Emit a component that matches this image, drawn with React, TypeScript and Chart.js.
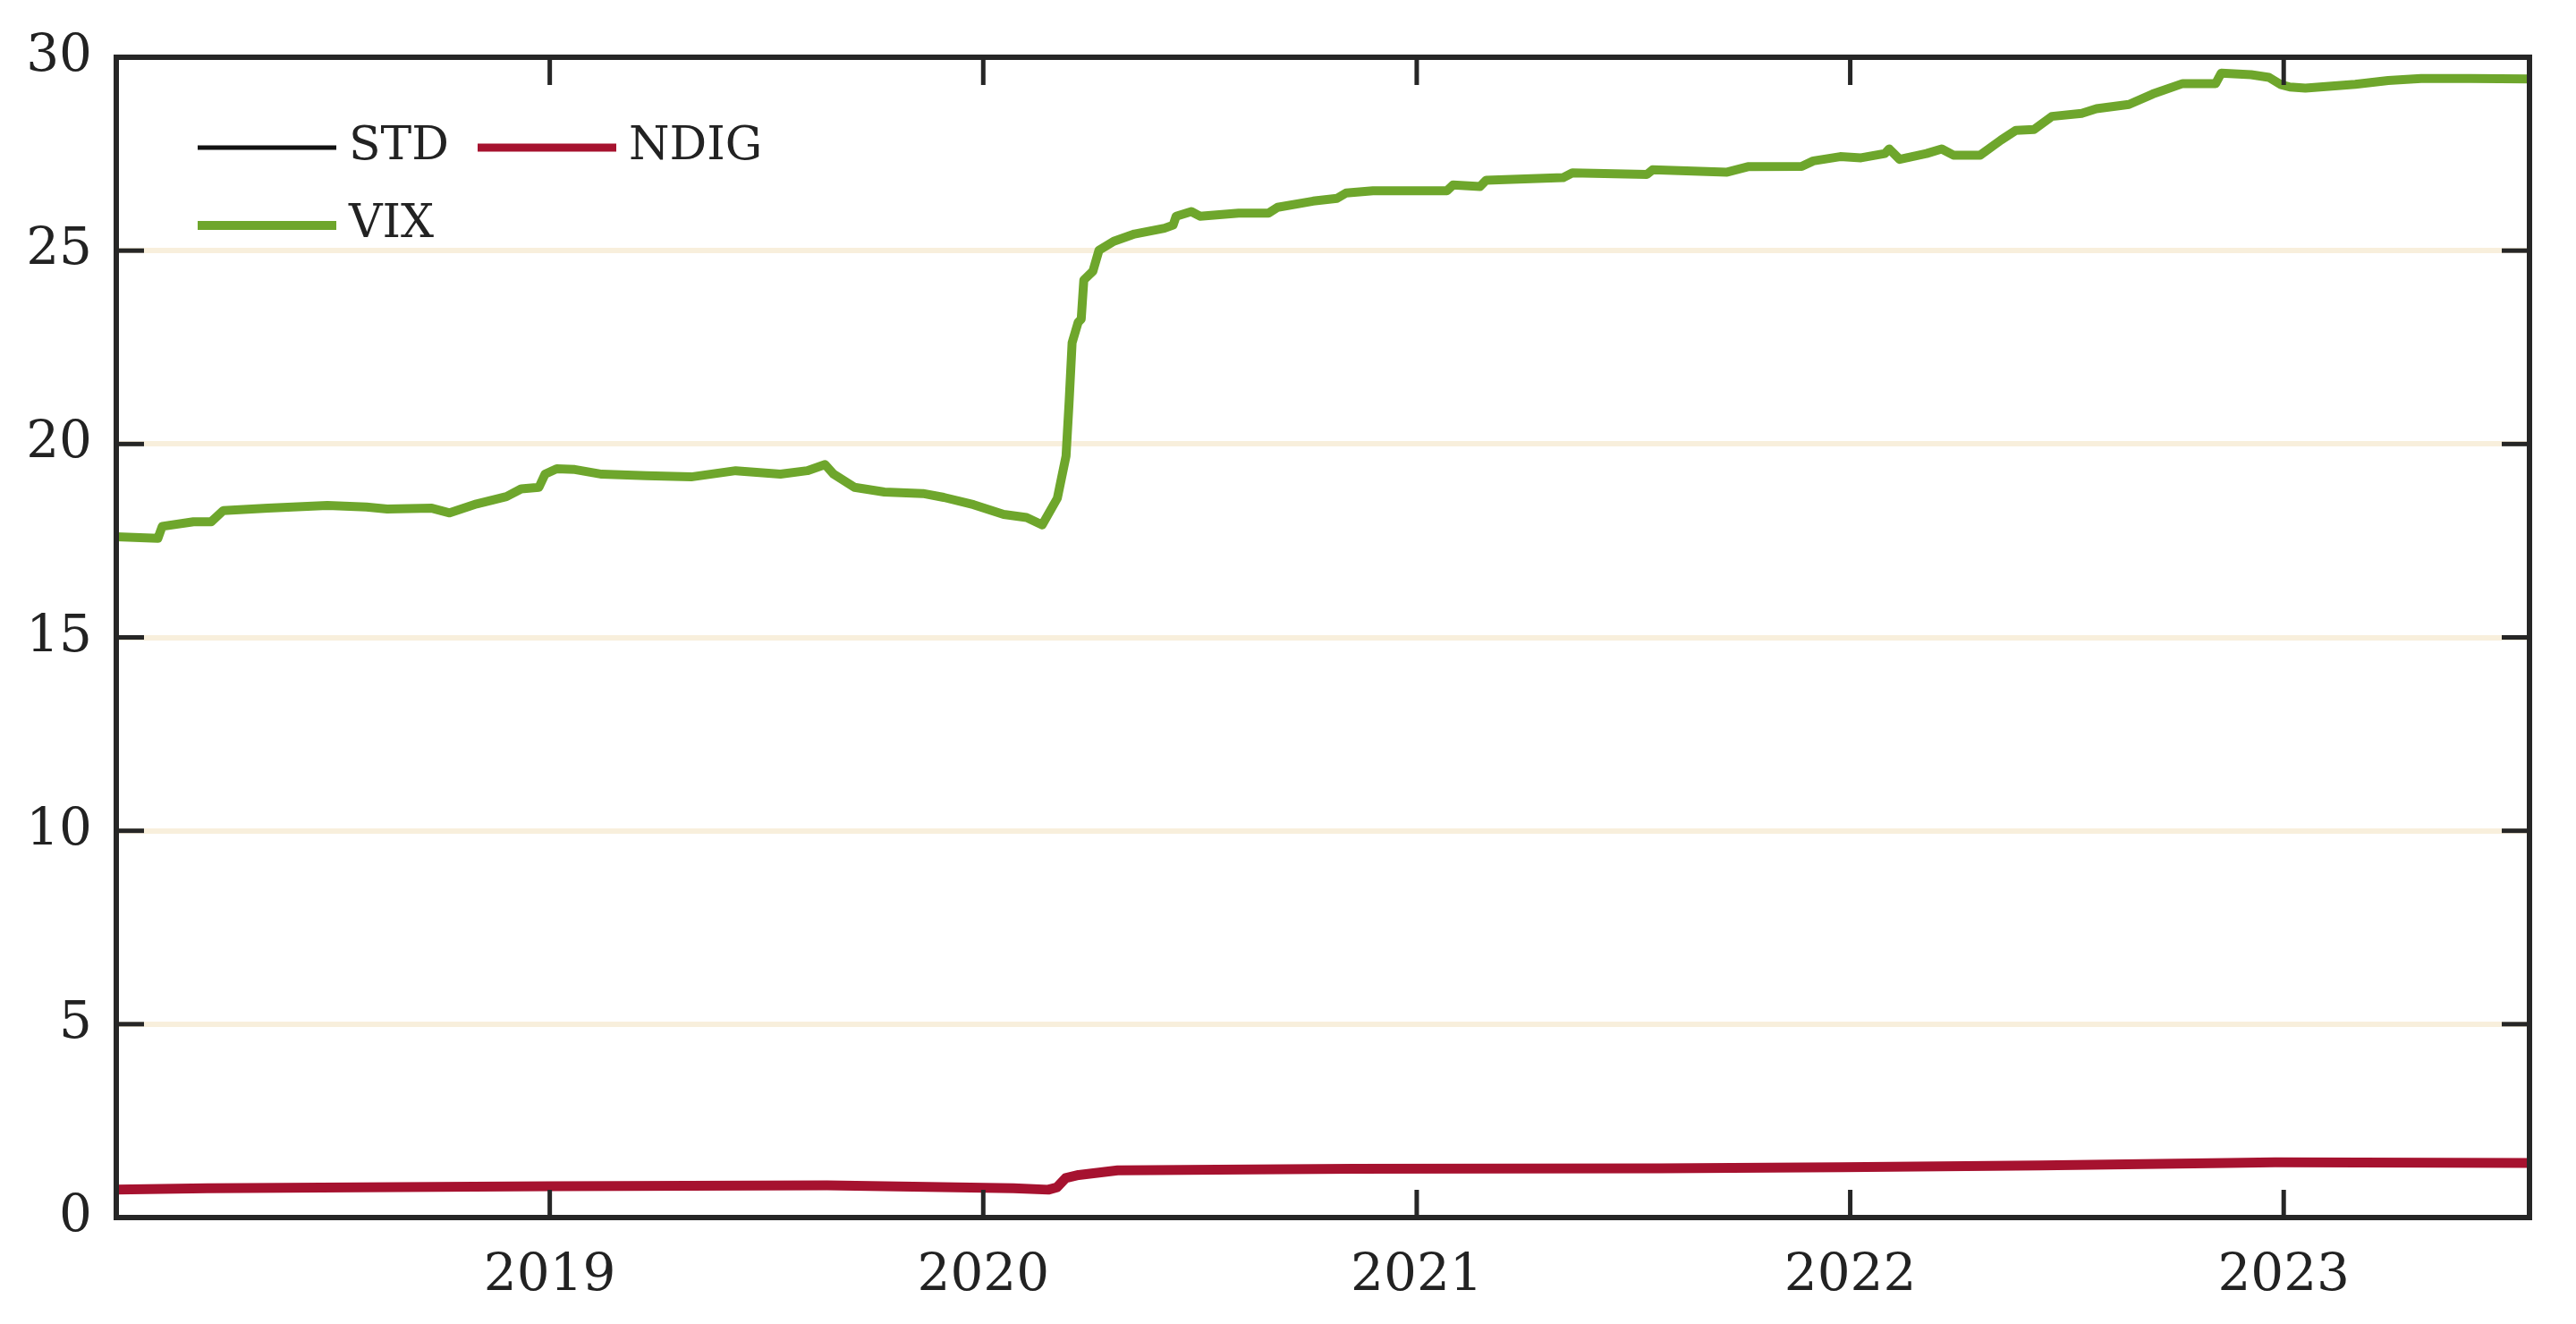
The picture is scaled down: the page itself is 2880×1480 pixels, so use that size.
import React, { useEffect, useRef } from "react";
import { Chart, registerables } from "chart.js";

Chart.register(...registerables);

// ---- data ----
const X_MIN = 2018.0;
const X_MAX = 2023.567;
const yearTicks = [2019, 2020, 2021, 2022, 2023];
const yTickValues = [0, 5, 10, 15, 20, 25, 30];
const seriesLabels = ["STD", "NDIG", "VIX"];

const vixYears = [
  2018.0, 2018.096, 2018.106, 2018.178, 2018.219, 2018.247, 2018.35, 2018.487, 2018.577, 2018.625,
  2018.728, 2018.769, 2018.831, 2018.9, 2018.934, 2018.975, 2018.989, 2019.016, 2019.058, 2019.12,
  2019.223, 2019.326, 2019.429, 2019.532, 2019.594, 2019.635, 2019.655, 2019.703, 2019.772, 2019.861,
  2019.909, 2019.978, 2020.047, 2020.1, 2020.136, 2020.171, 2020.191, 2020.198, 2020.205, 2020.219,
  2020.226, 2020.232, 2020.253, 2020.267, 2020.301, 2020.349, 2020.418, 2020.438, 2020.445, 2020.48,
  2020.5, 2020.589, 2020.658, 2020.679, 2020.761, 2020.816, 2020.837, 2020.899, 2020.995, 2021.07,
  2021.084, 2021.146, 2021.16, 2021.338, 2021.359, 2021.531, 2021.544, 2021.716, 2021.764, 2021.888,
  2021.915, 2021.977, 2022.025, 2022.08, 2022.09, 2022.114, 2022.176, 2022.211, 2022.238, 2022.3,
  2022.348, 2022.382, 2022.424, 2022.465, 2022.534, 2022.568, 2022.643, 2022.698, 2022.767, 2022.843,
  2022.856, 2022.925, 2022.966, 2022.994, 2023.014, 2023.05, 2023.165, 2023.241, 2023.317, 2023.431,
  2023.567,
];
const vixValues = [
  17.6, 17.56, 17.87, 17.99, 17.99, 18.28, 18.34, 18.41, 18.37, 18.32,
  18.34, 18.22, 18.45, 18.64, 18.84, 18.88, 19.22, 19.36, 19.34, 19.22,
  19.18, 19.15, 19.31, 19.22, 19.31, 19.47, 19.22, 18.88, 18.76, 18.72,
  18.62, 18.43, 18.18, 18.1, 17.91, 18.6, 19.69, 21.07, 22.62, 23.15,
  23.23, 24.24, 24.47, 25.01, 25.24, 25.43, 25.58, 25.66, 25.89, 26.01,
  25.89, 25.97, 25.97, 26.12, 26.28, 26.35, 26.49, 26.55, 26.55, 26.55,
  26.7, 26.66, 26.82, 26.89, 27.01, 26.97, 27.09, 27.03, 27.17, 27.18,
  27.32, 27.43, 27.4, 27.51, 27.63, 27.36, 27.51, 27.63, 27.47, 27.47,
  27.86, 28.11, 28.13, 28.47, 28.55, 28.67, 28.78, 29.05, 29.32, 29.32,
  29.59, 29.55, 29.48, 29.29, 29.23, 29.2, 29.3, 29.4, 29.45, 29.45,
  29.44,
];

const ndigYears = [
  2018.0, 2018.21, 2019.0, 2019.64, 2020.07, 2020.15, 2020.17, 2020.19, 2020.22, 2020.31,
  2020.85, 2021.56, 2021.98, 2022.44, 2022.87, 2022.98, 2023.567,
];
const ndigValues = [
  0.72, 0.76, 0.81, 0.83, 0.76, 0.72, 0.78, 1.02, 1.1, 1.22,
  1.26, 1.27, 1.3, 1.35, 1.41, 1.43, 1.41,
];

const stdYears = [
  2018.0, 2018.21, 2019.0, 2019.64, 2020.07, 2020.15, 2020.17, 2020.19, 2020.22, 2020.31,
  2020.85, 2021.56, 2021.98, 2022.44, 2022.87, 2022.98, 2023.567,
];
const stdValues = [
  0.7, 0.75, 0.8, 0.82, 0.75, 0.71, 0.77, 1.0, 1.08, 1.2,
  1.25, 1.26, 1.29, 1.34, 1.4, 1.42, 1.4,
];

const toPoints = (xs: number[], ys: number[]) => xs.map((x, i) => ({ x, y: ys[i] }));

// ---- styling ----
const FONT = "'DejaVu Serif', serif";
const INK = "#222222";
const COLORS = ["#111111", "#a6122f", "#6ea62c"];
const WIDTHS = [4, 11, 10];
const LEGEND_WIDTHS = [5, 9, 10];

const framePlugin = {
  id: "frameTicks",
  afterDatasetsDraw(chart: any) {
    const { ctx, chartArea: a, scales } = chart;
    const tl = 31;
    ctx.save();
    ctx.strokeStyle = "#262626";
    ctx.lineCap = "butt";
    ctx.lineWidth = 5;
    const seg = (x1: number, y1: number, x2: number, y2: number) => {
      ctx.beginPath();
      ctx.moveTo(x1, y1);
      ctx.lineTo(x2, y2);
      ctx.stroke();
    };
    for (const v of yearTicks) {
      const x = scales.x.getPixelForValue(v);
      seg(x, a.bottom, x, a.bottom - tl);
      seg(x, a.top, x, a.top + tl);
    }
    for (const v of yTickValues) {
      if (v === yTickValues[0] || v === yTickValues[yTickValues.length - 1]) continue;
      const y = scales.y.getPixelForValue(v);
      seg(a.left, y, a.left + tl, y);
      seg(a.right, y, a.right - tl, y);
    }
    ctx.lineWidth = 6;
    ctx.lineJoin = "miter";
    ctx.strokeRect(a.left, a.top, a.right - a.left, a.bottom - a.top);
    ctx.restore();
  },
};

const legendPlugin = {
  id: "insideLegend",
  afterDraw(chart: any) {
    const { ctx } = chart;
    const slots = [
      { x: 221, y: 165 },
      { x: 534, y: 165 },
      { x: 221, y: 252 },
    ];
    const lineLen = 155;
    ctx.save();
    ctx.font = `52px ${FONT}`;
    ctx.textAlign = "left";
    ctx.textBaseline = "alphabetic";
    chart.data.datasets.forEach((ds: any, i: number) => {
      const s = slots[i];
      ctx.strokeStyle = ds.borderColor;
      ctx.lineWidth = LEGEND_WIDTHS[i];
      ctx.lineCap = "butt";
      ctx.beginPath();
      ctx.moveTo(s.x, s.y);
      ctx.lineTo(s.x + lineLen, s.y);
      ctx.stroke();
      ctx.fillStyle = INK;
      ctx.fillText(ds.label, s.x + lineLen + 14, s.y + 13);
    });
    ctx.restore();
  },
};

export default function App() {
  const canvasRef = useRef<HTMLCanvasElement | null>(null);

  useEffect(() => {
    const canvas = canvasRef.current;
    if (!canvas) return;
    const series = [toPoints(stdYears, stdValues), toPoints(ndigYears, ndigValues), toPoints(vixYears, vixValues)];
    const chart = new Chart(canvas, {
      type: "line",
      data: {
        datasets: seriesLabels.map((label, i) => ({
          label,
          data: series[i],
          borderColor: COLORS[i],
          backgroundColor: COLORS[i],
          borderWidth: WIDTHS[i],
          pointRadius: 0,
          tension: 0,
          borderJoinStyle: "round",
          borderCapStyle: "butt",
          fill: false,
          order: 2 - i,
        })),
      },
      options: {
        animation: false,
        responsive: false,
        devicePixelRatio: 1,
        layout: { padding: { top: 64, right: 52, left: 0, bottom: 0 } },
        plugins: {
          legend: { display: false },
          tooltip: { enabled: false },
        },
        scales: {
          x: {
            type: "linear",
            min: X_MIN,
            max: X_MAX,
            afterBuildTicks: (scale: any) => {
              scale.ticks = yearTicks.map((v) => ({ value: v }));
            },
            afterFit: (scale: any) => {
              scale.height = 119;
            },
            grid: { display: false },
            border: { display: false },
            ticks: {
              color: INK,
              font: { family: FONT, size: 58 },
              padding: 23,
              maxRotation: 0,
              autoSkip: false,
              callback: (v: any) => String(v),
            },
          },
          y: {
            type: "linear",
            min: 0,
            max: 30,
            afterBuildTicks: (scale: any) => {
              scale.ticks = yTickValues.map((v) => ({ value: v }));
            },
            afterFit: (scale: any) => {
              scale.width = 130;
            },
            grid: {
              drawTicks: false,
              lineWidth: 6,
              color: (c: any) =>
                c.tick && (c.tick.value === 0 || c.tick.value === 30) ? "rgba(0,0,0,0)" : "#f8efdc",
            },
            border: { display: false },
            ticks: {
              color: INK,
              font: { family: FONT, size: 58 },
              padding: 27,
              callback: (v: any) => String(v),
            },
          },
        },
      },
      plugins: [framePlugin, legendPlugin],
    } as any);
    return () => chart.destroy();
  }, []);

  return (
    <div style={{ position: "fixed", left: 0, top: 0, width: 2880, height: 1480, background: "#ffffff" }}>
      <canvas ref={canvasRef} width={2880} height={1480} style={{ width: 2880, height: 1480, display: "block" }} />
    </div>
  );
}
